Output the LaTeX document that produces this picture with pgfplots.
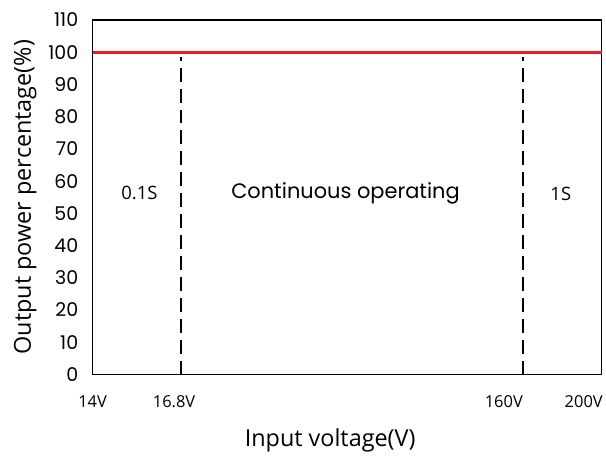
\documentclass[border=0pt]{standalone}
\usepackage{fontspec}
\setmainfont{Open Sans}
\newfontfamily\popfont{Poppins}
\usepackage{pgfplots}
\pgfplotsset{compat=1.18}
\definecolor{redline}{RGB}{228,32,40}
\begin{document}
\begin{tikzpicture}
\begin{axis}[
  scale only axis,
  width=511bp, height=356bp,
  xmin=0, xmax=100, ymin=0, ymax=110,
  axis line style={line width=1.3bp, black},
  ytick={0,10,...,110},
  xtick={0,16,80.8,96.5},
  xticklabels={14V,16.8V,160V,200V},
  major tick length=0pt,
  /pgf/number format/assume math mode=true,
  yticklabel style={font=\popfont\fontsize{19bp}{21bp}\selectfont, xshift=-11bp},
  xticklabel style={font=\fontsize{16.5bp}{19bp}\selectfont, yshift=-18bp},
  xlabel={Input voltage(V)},
  ylabel={Output power percentage(\%)},
  label style={font=\fontsize{23.5bp}{26bp}\selectfont},
  xlabel style={yshift=-14bp, xshift=-17bp},
  ylabel style={yshift=5bp},
  clip=false,
]
\addplot[redline, line width=3bp] coordinates {(0,100) (100,100)};
\addplot[black, line width=2bp, dash pattern=on 14bp off 7bp] coordinates {(17.42,0) (17.42,98.5)};
\addplot[black, line width=2bp, dash pattern=on 14bp off 7bp] coordinates {(84.54,0) (84.54,98.5)};
\node[font=\fontsize{18.5bp}{21bp}\selectfont] at (axis cs:9.2,56.3) {0.1S};
\node[font=\popfont\fontsize{21bp}{24bp}\selectfont] at (axis cs:49.7,56.3) {Continuous operating};
\node[font=\fontsize{18.5bp}{21bp}\selectfont] at (axis cs:92,56) {1S};
\end{axis}
\path (current axis.south west) ++(-93bp,-75bp) coordinate (bl);
\path (current axis.north east) ++(2bp,20bp) coordinate (tr);
\useasboundingbox (bl) rectangle (tr);
\end{tikzpicture}
\end{document}
